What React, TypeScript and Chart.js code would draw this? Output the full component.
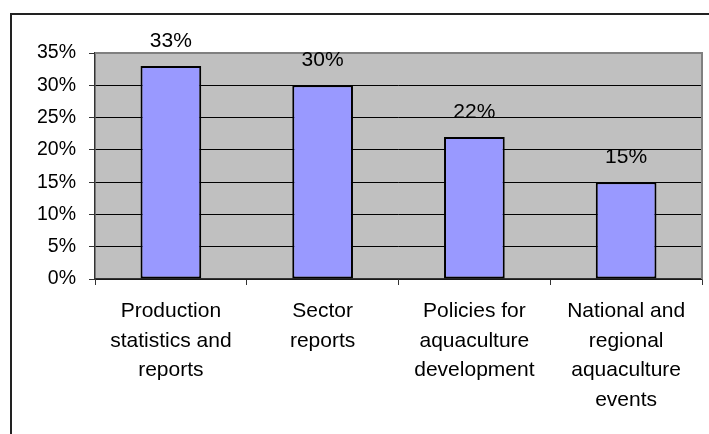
import React, { useEffect, useRef } from "react";
import { Chart, registerables } from "chart.js";

Chart.register(...registerables);

const categories: string[][] = [
  ["Production", "statistics and", "reports"],
  ["Sector", "reports"],
  ["Policies for", "aquaculture", "development"],
  ["National and", "regional", "aquaculture", "events"],
];
const values: number[] = [33, 30, 22, 15];
const yMax = 35;
const yStep = 5;

const FONT = "'Liberation Sans', Arial, sans-serif";

const decorPlugin = {
  id: "decor",
  beforeDraw(chart: any) {
    const { ctx, chartArea: a } = chart;
    ctx.save();
    ctx.fillStyle = "#ffffff";
    ctx.fillRect(0, 0, chart.width, chart.height);
    ctx.fillStyle = "#C0C0C0";
    ctx.fillRect(a.left, a.top, a.right - a.left, a.bottom - a.top);
    ctx.strokeStyle = "#222";
    ctx.lineWidth = 2;
    ctx.beginPath();
    ctx.moveTo(chart.width + 2, 14);
    ctx.lineTo(11, 14);
    ctx.lineTo(11, chart.height + 2);
    ctx.stroke();
    ctx.restore();
  },
  beforeDatasetsDraw(chart: any) {
    const { ctx, chartArea: a } = chart;
    ctx.save();
    ctx.strokeStyle = "#808080";
    ctx.lineWidth = 2;
    ctx.beginPath();
    ctx.moveTo(a.left, a.top);
    ctx.lineTo(a.right, a.top);
    ctx.lineTo(a.right, a.bottom);
    ctx.stroke();
    ctx.restore();
  },
  afterDatasetsDraw(chart: any) {
    const { ctx } = chart;
    const meta = chart.getDatasetMeta(0);
    ctx.save();
    ctx.fillStyle = "#000";
    ctx.font = `21px ${FONT}`;
    ctx.textAlign = "center";
    ctx.textBaseline = "alphabetic";
    meta.data.forEach((bar: any, i: number) => {
      ctx.fillText(values[i] + "%", bar.x, bar.y - 19);
    });
    ctx.restore();
  },
};

export default function App() {
  const ref = useRef<HTMLCanvasElement>(null);
  useEffect(() => {
    if (!ref.current) return;
    const chart = new Chart(ref.current, {
      type: "bar",
      data: {
        labels: categories,
        datasets: [
          {
            data: values,
            backgroundColor: "#9999FF",
            borderColor: "#000000",
            borderWidth: 2,
            borderSkipped: false,
            barPercentage: 0.4,
            categoryPercentage: 1,
          },
        ],
      },
      options: {
        animation: false,
        responsive: false,
        devicePixelRatio: 1,
        layout: { padding: { top: 53, right: 7, left: 0, bottom: 0 } },
        plugins: { legend: { display: false }, tooltip: { enabled: false } },
        scales: {
          x: {
            afterFit: (s: any) => {
              s.height = 434 - 53 - 226;
            },
            grid: {
              drawOnChartArea: false,
              drawTicks: true,
              tickLength: 6,
              tickColor: "#333",
              offset: true,
            },
            border: { color: "#333", width: 1.5 },
            ticks: {
              color: "#000",
              padding: 11,
              maxRotation: 0,
              autoSkip: false,
              font: { family: FONT, size: 21, lineHeight: 1.42 },
            },
          },
          y: {
            min: 0,
            max: yMax,
            afterFit: (s: any) => {
              s.width = 95;
            },
            grid: {
              color: (c: any) => (c.tick && c.tick.value === yMax ? "rgba(0,0,0,0)" : "#000"),
              lineWidth: 1,
              tickLength: 6,
              tickColor: "#333",
            },
            border: { color: "#333", width: 1.5 },
            ticks: {
              stepSize: yStep,
              color: "#000",
              padding: 13,
              font: { family: FONT, size: 19.5 },
              callback: (v: any) => v + "%",
            },
          },
        },
      },
      plugins: [decorPlugin],
    });
    return () => chart.destroy();
  }, []);
  return (
    <div style={{ position: "absolute", left: 0, top: 0, width: 709, height: 434 }}>
      <canvas ref={ref} width={709} height={434} style={{ display: "block", width: 709, height: 434 }} />
    </div>
  );
}
